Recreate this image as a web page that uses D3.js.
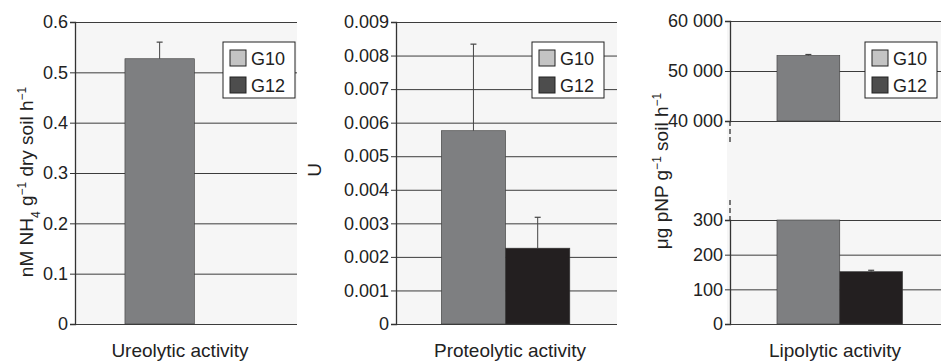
<!DOCTYPE html>
<html>
<head>
<meta charset="utf-8">
<script src="https://cdn.jsdelivr.net/npm/d3@7"></script>
<style>
  body { margin: 0; background: #fff; }
  svg { display: block; font-family: "Liberation Sans", Arial, sans-serif; }
  .tick text { font-size: 18px; fill: #222; }
  .labelText { font-size: 18px; fill: #222; }
  .bigText { font-size: 19px; fill: #222; }
</style>
</head>
<body>
<svg id="chart" width="941" height="363"></svg>
<script>
const series = ['G10', 'G12'];
const categories = ['Ureolytic activity', 'Proteolytic activity', 'Lipolytic activity'];

const ureolyticMeans = [0.527, null];
const ureolyticErrors = [0.033, null];
const ureolyticTicks = [0, 0.1, 0.2, 0.3, 0.4, 0.5, 0.6];

const proteolyticMeans = [0.00576, 0.00226];
const proteolyticErrors = [0.00258, 0.00092];
const proteolyticTicks = [0, 0.001, 0.002, 0.003, 0.004, 0.005, 0.006, 0.007, 0.008, 0.009];

const lipolyticMeans = [53100, 151];
const lipolyticErrors = [200, 4];
const lipolyticLowTicks = [0, 100, 200, 300];
const lipolyticHighTicks = [40000, 50000, 60000];

const barColors = { G10: '#7e7f81', G12: '#231f20' };
const legendColors = { G10: '#c4c4c4', G12: '#4d4d4d' };

const svg = d3.select('#chart');
const spaceFormat = d3.formatLocale({ decimal: '.', thousands: ' ', grouping: [3], currency: ['', ''] }).format(',');

function drawBars(parent, x, y, means, errors, floor) {
  const g = parent.append('g');
  const rows = series.map((s, i) => ({ s, v: means[i], e: errors[i] }))
    .filter((d) => d.v !== null && d.v > floor);

  g.selectAll('rect')
    .data(rows)
    .enter()
    .append('rect')
    .attr('x', (d) => x(d.s))
    .attr('width', x.bandwidth())
    .attr('y', (d) => y(d.v))
    .attr('height', (d) => y(floor) - y(d.v))
    .attr('fill', (d) => barColors[d.s])
    .attr('stroke', '#3a3a3a')
    .attr('stroke-width', 0.6);

  const topDomain = y.domain()[1];
  const errRows = rows.filter((d) => d.v <= topDomain);

  g.selectAll('line.err')
    .data(errRows)
    .enter()
    .append('line')
    .attr('class', 'err')
    .attr('x1', (d) => x(d.s) + x.bandwidth() / 2)
    .attr('x2', (d) => x(d.s) + x.bandwidth() / 2)
    .attr('y1', (d) => y(d.v))
    .attr('y2', (d) => y(d.v + d.e))
    .attr('stroke', '#444')
    .attr('stroke-width', 1);

  g.selectAll('line.cap')
    .data(errRows)
    .enter()
    .append('line')
    .attr('class', 'cap')
    .attr('x1', (d) => x(d.s) + x.bandwidth() / 2 - 3)
    .attr('x2', (d) => x(d.s) + x.bandwidth() / 2 + 3)
    .attr('y1', (d) => y(d.v + d.e))
    .attr('y2', (d) => y(d.v + d.e))
    .attr('stroke', '#444')
    .attr('stroke-width', 1.2);
}

function drawGrid(g, y, ticks, width) {
  g.append('g')
    .call(d3.axisLeft(y).tickValues(ticks).tickSize(-width).tickFormat(''))
    .call((a) => a.select('.domain').remove())
    .call((a) => a.selectAll('.tick line').attr('stroke', '#3c3c3c').attr('stroke-width', 1));
}

function drawAxis(g, y, ticks, fmt) {
  g.append('g')
    .call(d3.axisLeft(y).tickValues(ticks).tickSize(5).tickPadding(2).tickFormat(fmt))
    .call((a) => a.select('.domain').attr('stroke', '#333').attr('stroke-width', 1.3))
    .call((a) => a.selectAll('.tick line').attr('stroke', '#333'))
    .call((a) => a.selectAll('.tick text').attr('font-family', null).attr('font-size', null));
}

function drawLegend(g, lx, ly) {
  const legend = g.append('g').attr('transform', `translate(${lx}, ${ly})`);
  legend.append('rect')
    .attr('width', 72).attr('height', 56)
    .attr('fill', '#fff').attr('stroke', '#222').attr('stroke-width', 1);
  legend.selectAll('rect.sw')
    .data(series)
    .enter()
    .append('rect')
    .attr('class', 'sw')
    .attr('x', 7).attr('y', (d, i) => 8 + i * 27)
    .attr('width', 16).attr('height', 16)
    .attr('fill', (d) => legendColors[d])
    .attr('stroke', '#222').attr('stroke-width', 1);
  legend.selectAll('text')
    .data(series)
    .enter()
    .append('text')
    .attr('x', 28).attr('y', (d, i) => 23 + i * 27)
    .attr('class', 'labelText')
    .text((d) => d);
}

function yLabel(parts, tx, ty) {
  const t = svg.append('text')
    .attr('class', 'bigText')
    .attr('text-anchor', 'middle')
    .attr('transform', `translate(${tx}, ${ty}) rotate(-90)`);
  parts.forEach(([txt, shift]) => {
    const ts = t.append('tspan').text(txt);
    if (shift) ts.attr('baseline-shift', shift).attr('font-size', 12);
  });
}

function xLabel(text, cx) {
  svg.append('text')
    .attr('class', 'bigText')
    .attr('text-anchor', 'middle')
    .attr('x', cx).attr('y', 357)
    .text(text);
}

// Panel 1: ureolytic
{
  const left = 75, width = 222, top = 22, bottom = 324;
  const g = svg.append('g').attr('transform', `translate(${left}, 0)`);
  const x = d3.scaleBand().domain(series).range([0, width]).paddingInner(0).paddingOuter(0.6).align(0.6);
  const y = d3.scaleLinear().domain([0, 0.6]).range([bottom, top]);
  g.append('rect').attr('y', top).attr('width', width).attr('height', bottom - top).attr('fill', '#f6f6f6');
  drawGrid(g, y, ureolyticTicks, width);
  drawBars(g, x, y, ureolyticMeans, ureolyticErrors, 0);
  drawAxis(g, y, ureolyticTicks, d3.format('~g'));
  drawLegend(g, 148, 42);
  xLabel(categories[0], 180);
  yLabel([['nM NH'], ['4', 'sub'], [' g'], ['−1', 'super'], [' dry soil h'], ['−1', 'super']], 33, 182);
}

// Panel 2: proteolytic
{
  const left = 396, width = 221, top = 22, bottom = 324;
  const g = svg.append('g').attr('transform', `translate(${left}, 0)`);
  const x = d3.scaleBand().domain(series).range([0, width]).paddingInner(0).paddingOuter(0.72).align(0.49);
  const y = d3.scaleLinear().domain([0, 0.009]).range([bottom, top]);
  g.append('rect').attr('y', top).attr('width', width).attr('height', bottom - top).attr('fill', '#f6f6f6');
  drawGrid(g, y, proteolyticTicks, width);
  drawBars(g, x, y, proteolyticMeans, proteolyticErrors, 0);
  drawAxis(g, y, proteolyticTicks, d3.format('~g'));
  drawLegend(g, 136, 42);
  xLabel(categories[1], 510);
  yLabel([['U']], 321, 170);
}

// Panel 3: lipolytic, broken axis
{
  const left = 730, width = 211, top = 21, breakTop = 121, breakBottom = 220, bottom = 324;
  const g = svg.append('g').attr('transform', `translate(${left}, 0)`);
  const x = d3.scaleBand().domain(series).range([0, width]).paddingInner(0).paddingOuter(0.68).align(0.55);
  const yHigh = d3.scaleLinear().domain([40000, 60000]).range([breakTop, top]);
  const yLow = d3.scaleLinear().domain([0, 300]).range([bottom, breakBottom]).clamp(true);
  g.append('rect').attr('x', -3).attr('y', top).attr('width', width + 3).attr('height', bottom - top).attr('fill', '#f6f6f6');
  drawGrid(g, yHigh, lipolyticHighTicks, width);
  drawGrid(g, yLow, lipolyticLowTicks, width);
  drawBars(g, x, yHigh, lipolyticMeans, lipolyticErrors, 40000);
  drawBars(g, x, yLow, lipolyticMeans, lipolyticErrors, 0);
  drawAxis(g, yHigh, lipolyticHighTicks, spaceFormat);
  drawAxis(g, yLow, lipolyticLowTicks, spaceFormat);
  [[breakTop, breakTop + 22], [breakBottom - 20, breakBottom]].forEach(([a, b]) => {
    g.append('line')
      .attr('x1', 0).attr('x2', 0).attr('y1', a).attr('y2', b)
      .attr('stroke', '#333').attr('stroke-width', 1.3).attr('stroke-dasharray', '5,3');
  });
  drawLegend(g, 135, 42);
  xLabel(categories[2], 835);
  yLabel([['μg pNP g'], ['−1', 'super'], [' soil h'], ['−1', 'super']], 668, 171);
}
</script>
</body>
</html>
